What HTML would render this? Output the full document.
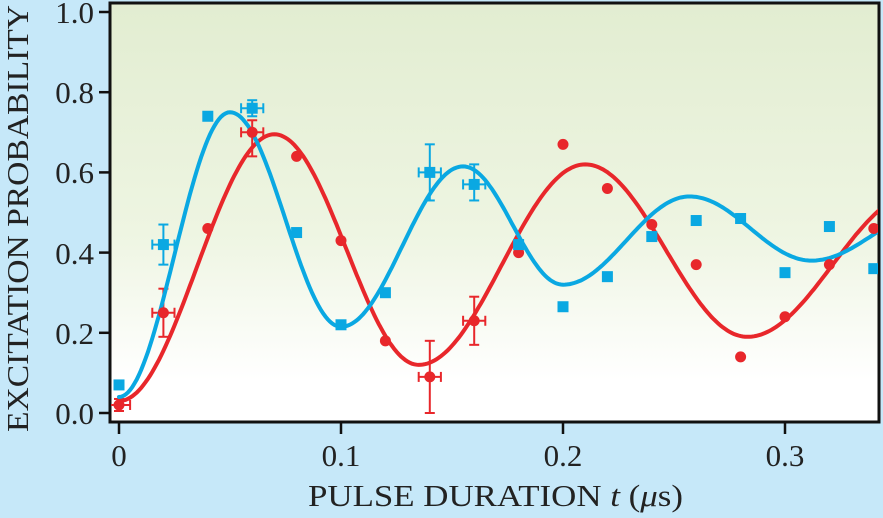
<!DOCTYPE html>
<html><head><meta charset="utf-8"><style>
html,body{margin:0;padding:0;background:#c6e8f9;}
svg{display:block;font-family:"Liberation Serif",serif;}
</style></head><body>
<svg id="s" width="883" height="518" viewBox="0 0 883 518">
<defs>
<linearGradient id="g" x1="0" y1="0" x2="0" y2="1">
<stop offset="0" stop-color="#e2edd1"/>
<stop offset="0.55" stop-color="#eef5e2"/>
<stop offset="0.9" stop-color="#ffffff"/>
<stop offset="1" stop-color="#ffffff"/>
</linearGradient>
<clipPath id="c"><rect x="111" y="4" width="767" height="417"/></clipPath>
</defs>
<rect x="0" y="0" width="883" height="518" fill="#c6e8f9"/>
<rect x="110" y="3" width="769" height="419" fill="url(#g)" stroke="#111" stroke-width="3"/>
<g id="ticks" stroke="#111" stroke-width="2.5"></g>
<g font-size="31" fill="#222" text-anchor="end">
<text x="94" y="424">0.0</text>
<text x="94" y="344">0.2</text>
<text x="94" y="264">0.4</text>
<text x="94" y="183">0.6</text>
<text x="94" y="103">0.8</text>
<text x="94" y="23">1.0</text>
</g>
<g font-size="31" fill="#222" text-anchor="middle">
<text x="119" y="466">0</text>
<text x="341" y="466">0.1</text>
<text x="563" y="466">0.2</text>
<text x="785" y="466">0.3</text>
</g>
<g font-size="31" fill="#222">
<text x="308" y="506" textLength="375" lengthAdjust="spacingAndGlyphs">PULSE DURATION <tspan font-style="italic">t</tspan> (<tspan font-style="italic">μ</tspan>s)</text>
<text transform="translate(28,432) rotate(-90)" textLength="427" lengthAdjust="spacingAndGlyphs">EXCITATION PROBABILITY</text>
</g>
<g id="plot" clip-path="url(#c)"></g>
</svg>
<script>
var X=function(t){return 119+2220*t;},Y=function(v){return 413-401*v;};
var NS="http://www.w3.org/2000/svg";
function el(p,n,a){var e=document.createElementNS(NS,n);for(var k in a)e.setAttribute(k,a[k]);p.appendChild(e);return e;}
var tk=document.getElementById("ticks");
[0,0.2,0.4,0.6,0.8,1.0].forEach(function(v){el(tk,"line",{x1:99,x2:110,y1:Y(v),y2:Y(v)});});
[0,0.1,0.2,0.3].forEach(function(t){el(tk,"line",{x1:X(t),x2:X(t),y1:422,y2:434});});
var P=document.getElementById("plot");
function curve(ex,col){var d="";for(var t=0;t<=0.345;t+=0.001){var i=0;while(i<ex.length-2&&t>ex[i+1][0])i++;var a=ex[i],b=ex[i+1];var f=(t-a[0])/(b[0]-a[0]);var v=a[1]+(b[1]-a[1])*(1-Math.cos(Math.PI*f))/2;d+=(d?"L":"M")+X(t).toFixed(1)+","+Y(v).toFixed(1);}el(P,"path",{d:d,fill:"none",stroke:col,"stroke-width":4,"stroke-linecap":"round"});}
var RED="#e8272b",BLUE="#0aa8e2";
var redD=[[0,0.02],[0.02,0.25],[0.04,0.46],[0.06,0.70],[0.08,0.64],[0.10,0.43],[0.12,0.18],[0.14,0.09],[0.16,0.23],[0.18,0.40],[0.20,0.67],[0.22,0.56],[0.24,0.47],[0.26,0.37],[0.28,0.14],[0.30,0.24],[0.32,0.37],[0.34,0.46]];
var bluD=[[0,0.07],[0.02,0.42],[0.04,0.74],[0.06,0.76],[0.08,0.45],[0.10,0.22],[0.12,0.30],[0.14,0.60],[0.16,0.57],[0.18,0.42],[0.20,0.265],[0.22,0.34],[0.24,0.44],[0.26,0.48],[0.28,0.485],[0.30,0.35],[0.32,0.465],[0.34,0.36]];
function err(t,v,lo,hi,col){var g=el(P,"g",{stroke:col,"stroke-width":2});var x=X(t);el(g,"line",{x1:x,x2:x,y1:Y(lo),y2:Y(hi)});el(g,"line",{x1:x-5,x2:x+5,y1:Y(lo),y2:Y(lo)});el(g,"line",{x1:x-5,x2:x+5,y1:Y(hi),y2:Y(hi)});el(g,"line",{x1:X(t-0.005),x2:X(t+0.005),y1:Y(v),y2:Y(v)});el(g,"line",{x1:X(t-0.005),x2:X(t-0.005),y1:Y(v)-5,y2:Y(v)+5});el(g,"line",{x1:X(t+0.005),x2:X(t+0.005),y1:Y(v)-5,y2:Y(v)+5});}
err(0.02,0.25,0.19,0.31,RED);err(0.06,0.70,0.64,0.73,RED);err(0.14,0.09,0.0,0.18,RED);err(0.16,0.23,0.17,0.29,RED);err(0,0.02,0.005,0.035,RED);
err(0.02,0.42,0.37,0.47,BLUE);err(0.06,0.76,0.74,0.78,BLUE);err(0.14,0.60,0.53,0.67,BLUE);err(0.16,0.57,0.53,0.62,BLUE);
curve([[0,0.03],[0.07,0.695],[0.135,0.12],[0.21,0.62],[0.283,0.19],[0.36,0.55]],RED);
curve([[0,0.04],[0.05,0.75],[0.10,0.215],[0.155,0.615],[0.20,0.32],[0.257,0.54],[0.312,0.38],[0.365,0.5]],BLUE);
redD.forEach(function(p){el(P,"circle",{cx:X(p[0]),cy:Y(p[1]),r:5.5,fill:RED});});
bluD.forEach(function(p){el(P,"rect",{x:X(p[0])-5.5,y:Y(p[1])-5.5,width:11,height:11,fill:BLUE});});
</script>
</body></html>
